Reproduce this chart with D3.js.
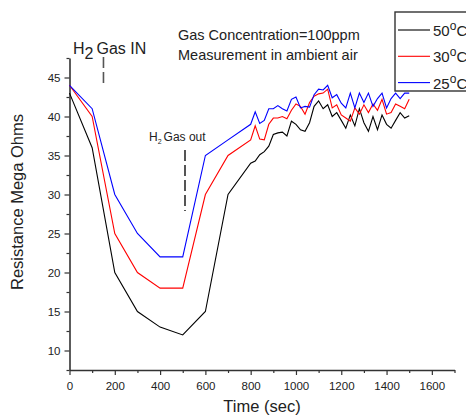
<!DOCTYPE html>
<html><head><meta charset="utf-8">
<script src="https://cdn.jsdelivr.net/npm/d3@7"></script>
<style>body{margin:0;background:#fff}svg{display:block}text{font-family:"Liberation Sans",Arial,sans-serif}</style>
</head><body>
<script>
const times = [0,100,200,300,400,500,600,700,800,820,840,860,880,900,920,940,960,980,1000,1020,1040,1060,1080,1100,1120,1140,1160,1180,1200,1220,1240,1260,1280,1300,1320,1340,1360,1380,1400,1420,1440,1460,1480,1500];
const r50 = [43,36,20,15,13,12,15,30,34.0,34.3,35.1,35.5,36.2,37.7,37.9,38.0,37.5,39.4,39.0,38.3,38.1,39.2,41.3,42.0,41.0,41.5,40.0,40.5,39.5,38.5,40.2,38.8,41.0,39.2,38.1,40.0,38.3,40.2,39.0,38.5,39.5,40.5,39.8,40.1];
const r30 = [44,40,25,20,18,18,30,35,37.0,38.8,37.1,37.0,39.0,39.8,39.8,40.0,39.7,40.8,41.6,41.3,40.3,41.8,42.6,42.9,43.0,43.5,41.1,41.5,40.2,39.8,39.4,41.1,40.3,41.5,40.5,41.6,40.8,42.2,40.3,40.5,41.6,41.3,41.0,42.2];
const r25 = [44,41,30,25,22,22,35,37,39.0,40.6,39.1,39.5,41.0,41.0,41.4,41.0,40.7,42.2,42.5,41.1,41.3,41.2,42.8,43.5,43.4,44.0,42.4,42.8,41.7,41.1,43.0,41.1,43.0,41.8,43.0,41.3,42.3,43.0,41.1,42.3,43.0,42.3,43.0,43.0];
const seriesNames = ["50","30","25"];
const seriesColors = ["#000000","#ff0000","#0000ff"];
const xTicks = [0,200,400,600,800,1000,1200,1400,1600];
const yTicks = [10,15,20,25,30,35,40,45];
const gasInTime = 150, gasOutTime = 510;

const W=466,H=418;
const svg=d3.select("body").append("svg").attr("width",W).attr("height",H);
const x=d3.scaleLinear().domain([0,1700]).range([69.5,454.5]);
const y=d3.scaleLinear().domain([7.5,47.5]).range([370,58]);
const axisCol="#333", txtCol="#222";

// axes
const xAx=svg.append("g").attr("transform","translate(0,370)")
  .call(d3.axisBottom(x).tickValues(xTicks).tickSize(5).tickSizeOuter(0).tickFormat(d3.format("d")));
const xMin=svg.append("g").attr("transform","translate(0,370)")
  .call(d3.axisBottom(x).tickValues(d3.range(100,1800,200)).tickSize(3).tickFormat(""));
xMin.select(".domain").remove();
const yAx=svg.append("g").attr("transform","translate(69.5,0)")
  .call(d3.axisLeft(y).tickValues(yTicks).tickSize(5).tickSizeOuter(0));
const yMin=svg.append("g").attr("transform","translate(69.5,0)")
  .call(d3.axisLeft(y).tickValues(d3.range(7.5,48,5)).tickSize(3).tickFormat(""));
yMin.select(".domain").remove();
svg.selectAll(".domain").attr("stroke",axisCol).attr("stroke-width",1.6);
svg.selectAll(".tick line").attr("stroke",axisCol).attr("stroke-width",1.2);
xAx.selectAll("text").attr("font-size",11.5).attr("fill",txtCol).attr("dy","1.05em");
yAx.selectAll("text").attr("font-size",11.5).attr("fill",txtCol).attr("x",-9);
xAx.selectAll("text").style("font-family","'Liberation Sans',Arial,sans-serif");
yAx.selectAll("text").style("font-family","'Liberation Sans',Arial,sans-serif");

// series
const data=[r50,r30,r25];
const line=d3.line().x((d,i)=>x(times[i])).y(d=>y(d));
data.forEach((s,k)=>{
  svg.append("path").datum(s).attr("d",line).attr("fill","none")
    .attr("stroke",seriesColors[k]).attr("stroke-width",1.1);
});

// annotations
svg.append("line").attr("x1",x(gasInTime)).attr("x2",x(gasInTime)).attr("y1",57).attr("y2",84)
  .attr("stroke","#555").attr("stroke-width",1.6).attr("stroke-dasharray","11,4");
svg.append("line").attr("x1",x(gasOutTime)).attr("x2",x(gasOutTime)).attr("y1",150).attr("y2",211)
  .attr("stroke","#555").attr("stroke-width",2).attr("stroke-dasharray","11,4");

const t1=svg.append("text").attr("x",73).attr("y",54).attr("font-size",16).attr("fill",txtCol);
t1.append("tspan").text("H");
t1.append("tspan").attr("dy",5).text("2");
t1.append("tspan").attr("dy",-5).attr("dx",3).text("Gas IN");

const t2=svg.append("text").attr("x",149).attr("y",141).attr("font-size",12).attr("fill",txtCol);
t2.append("tspan").text("H");
t2.append("tspan").attr("dy",3).attr("font-size",7).text("2");
t2.append("tspan").attr("dy",-3).attr("dx",2).text("Gas out");

svg.append("text").attr("x",178).attr("y",40).attr("font-size",14.5).attr("fill",txtCol).text("Gas Concentration=100ppm");
svg.append("text").attr("x",178).attr("y",60).attr("font-size",14.5).attr("fill",txtCol).text("Measurement in ambient air");

// axis titles
svg.append("text").attr("x",262).attr("y",412).attr("text-anchor","middle").attr("font-size",16.5).attr("fill",txtCol).text("Time (sec)");
svg.append("text").attr("transform","translate(23,202) rotate(-90)").attr("text-anchor","middle").attr("font-size",16.5).attr("fill",txtCol).text("Resistance Mega Ohms");

// legend
const lg=svg.append("g");
lg.append("rect").attr("x",395).attr("y",12).attr("width",90).attr("height",79)
  .attr("fill","#fff").attr("stroke","#333").attr("stroke-width",1.4);
seriesNames.forEach((n,i)=>{
  const yy=30+i*26.3;
  lg.append("line").attr("x1",398).attr("x2",430).attr("y1",yy).attr("y2",yy)
    .attr("stroke",seriesColors[i]).attr("stroke-width",1.1);
  const t=lg.append("text").attr("x",433).attr("y",yy+6).attr("font-size",15).attr("fill",txtCol);
  t.append("tspan").text(n);
  t.append("tspan").attr("dy",-6).attr("font-size",12).text("o");
  t.append("tspan").attr("dy",6).text("C");
});
</script>
</body></html>
